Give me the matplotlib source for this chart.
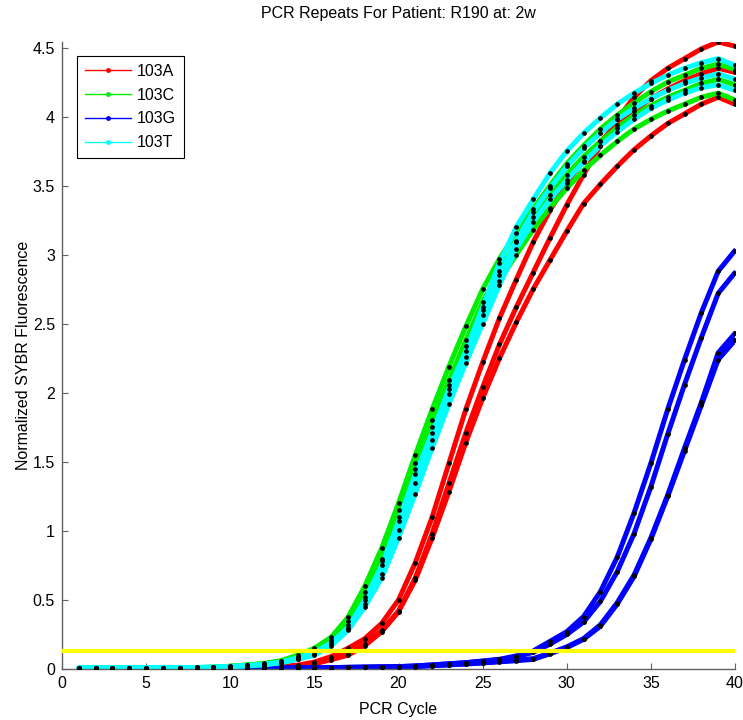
import matplotlib
matplotlib.use("Agg")
import matplotlib.pyplot as plt
from matplotlib.lines import Line2D

plt.rcParams['font.family'] = ['Liberation Sans', 'DejaVu Sans']

cycles = list(range(1, 41))

# 103A (red) replicates
a_rep1 = [0.000, 0.000, 0.000, 0.000, 0.000, 0.001, 0.002, 0.004, 0.005, 0.006,
          0.008, 0.012, 0.018, 0.028, 0.050, 0.090, 0.150, 0.220, 0.330, 0.500,
          0.770, 1.100, 1.490, 1.880, 2.220, 2.540, 2.820, 3.090, 3.320, 3.520,
          3.680, 3.820, 3.940, 4.040, 4.130, 4.200, 4.260, 4.310, 4.350, 4.320]
a_rep2 = [0.000, 0.000, 0.000, 0.000, 0.000, 0.001, 0.002, 0.003, 0.004, 0.005,
          0.007, 0.010, 0.015, 0.022, 0.040, 0.070, 0.110, 0.180, 0.280, 0.420,
          0.660, 0.980, 1.345, 1.710, 2.040, 2.350, 2.620, 2.870, 3.120, 3.360,
          3.580, 3.790, 3.980, 4.140, 4.260, 4.350, 4.420, 4.490, 4.540, 4.510]
a_rep3 = [0.000, 0.000, 0.000, 0.000, 0.000, 0.001, 0.002, 0.003, 0.004, 0.005,
          0.007, 0.010, 0.014, 0.021, 0.038, 0.068, 0.100, 0.170, 0.270, 0.415,
          0.645, 0.950, 1.285, 1.640, 1.960, 2.250, 2.510, 2.750, 2.960, 3.170,
          3.370, 3.510, 3.640, 3.760, 3.860, 3.950, 4.020, 4.090, 4.140, 4.090]

# 103C (green) replicates
c_rep1 = [0.005, 0.005, 0.005, 0.006, 0.006, 0.007, 0.008, 0.010, 0.013, 0.020,
          0.030, 0.040, 0.060, 0.100, 0.150, 0.230, 0.375, 0.600, 0.875, 1.200,
          1.550, 1.880, 2.190, 2.480, 2.750, 2.970, 3.160, 3.330, 3.500, 3.660,
          3.790, 3.910, 4.010, 4.100, 4.180, 4.250, 4.300, 4.350, 4.380, 4.340]
c_rep2 = [0.005, 0.005, 0.005, 0.006, 0.006, 0.007, 0.008, 0.010, 0.012, 0.019,
          0.028, 0.038, 0.055, 0.090, 0.140, 0.210, 0.350, 0.560, 0.800, 1.150,
          1.490, 1.800, 2.090, 2.380, 2.660, 2.880, 3.090, 3.270, 3.430, 3.580,
          3.710, 3.820, 3.920, 4.010, 4.080, 4.140, 4.190, 4.240, 4.270, 4.230]
c_rep3 = [0.005, 0.005, 0.005, 0.006, 0.006, 0.007, 0.008, 0.010, 0.012, 0.018,
          0.027, 0.036, 0.052, 0.085, 0.130, 0.200, 0.320, 0.520, 0.780, 1.100,
          1.450, 1.750, 2.060, 2.340, 2.600, 2.810, 3.000, 3.180, 3.340, 3.480,
          3.610, 3.720, 3.820, 3.910, 3.980, 4.040, 4.090, 4.140, 4.170, 4.120]

# 103G (blue) replicates
g_rep1 = [0.000, 0.000, 0.000, 0.000, 0.000, 0.000, 0.001, 0.002, 0.003, 0.004,
          0.005, 0.006, 0.007, 0.008, 0.009, 0.010, 0.012, 0.013, 0.015, 0.017,
          0.022, 0.030, 0.038, 0.046, 0.058, 0.070, 0.095, 0.130, 0.200, 0.270,
          0.380, 0.560, 0.810, 1.130, 1.490, 1.880, 2.240, 2.580, 2.880, 3.030]
g_rep2 = [0.000, 0.000, 0.000, 0.000, 0.000, 0.000, 0.001, 0.002, 0.003, 0.004,
          0.005, 0.006, 0.007, 0.008, 0.009, 0.010, 0.012, 0.013, 0.015, 0.017,
          0.022, 0.029, 0.037, 0.045, 0.056, 0.068, 0.090, 0.120, 0.180, 0.250,
          0.340, 0.490, 0.705, 0.980, 1.320, 1.700, 2.060, 2.400, 2.720, 2.870]
g_rep3 = [0.000, 0.000, 0.000, 0.000, 0.000, 0.000, 0.001, 0.002, 0.003, 0.004,
          0.005, 0.006, 0.007, 0.008, 0.009, 0.010, 0.011, 0.012, 0.013, 0.015,
          0.019, 0.025, 0.031, 0.038, 0.046, 0.055, 0.065, 0.075, 0.115, 0.160,
          0.220, 0.320, 0.480, 0.680, 0.950, 1.260, 1.600, 1.930, 2.290, 2.430]
g_rep4 = [0.000, 0.000, 0.000, 0.000, 0.000, 0.000, 0.001, 0.002, 0.003, 0.004,
          0.005, 0.006, 0.007, 0.008, 0.009, 0.010, 0.011, 0.012, 0.013, 0.014,
          0.018, 0.024, 0.030, 0.036, 0.044, 0.052, 0.060, 0.070, 0.110, 0.155,
          0.215, 0.310, 0.470, 0.670, 0.940, 1.250, 1.580, 1.910, 2.240, 2.380]

# 103T (cyan) replicates
t_rep1 = [0.008, 0.008, 0.008, 0.009, 0.009, 0.010, 0.010, 0.011, 0.013, 0.018,
          0.025, 0.034, 0.050, 0.080, 0.120, 0.190, 0.300, 0.500, 0.750, 1.070,
          1.410, 1.710, 2.030, 2.300, 2.620, 2.940, 3.200, 3.400, 3.590, 3.750,
          3.880, 3.990, 4.090, 4.170, 4.240, 4.300, 4.350, 4.390, 4.420, 4.370]
t_rep2 = [0.008, 0.008, 0.008, 0.009, 0.009, 0.010, 0.010, 0.011, 0.012, 0.017,
          0.024, 0.032, 0.047, 0.075, 0.110, 0.180, 0.290, 0.470, 0.690, 1.010,
          1.350, 1.660, 1.990, 2.260, 2.560, 2.850, 3.100, 3.310, 3.480, 3.640,
          3.770, 3.880, 3.980, 4.060, 4.130, 4.190, 4.240, 4.280, 4.310, 4.270]
t_rep3 = [0.008, 0.008, 0.008, 0.009, 0.009, 0.010, 0.010, 0.011, 0.012, 0.016,
          0.023, 0.030, 0.045, 0.070, 0.100, 0.170, 0.280, 0.450, 0.660, 0.950,
          1.270, 1.600, 1.920, 2.215, 2.500, 2.780, 3.040, 3.240, 3.400, 3.540,
          3.670, 3.790, 3.890, 3.980, 4.060, 4.120, 4.170, 4.210, 4.230, 4.190]

labels = ['103A', '103C', '103G', '103T']
colors = ['#ff0000', '#00ee00', '#0000ff', '#00ffff']
groups = [[a_rep1, a_rep2, a_rep3],
          [c_rep1, c_rep2, c_rep3],
          [g_rep1, g_rep2, g_rep3, g_rep4],
          [t_rep1, t_rep2, t_rep3]]

threshold = 0.13
x_range = [0, 40]

fig = plt.figure(figsize=(7.43, 7.2), dpi=100)
ax = fig.add_axes([62 / 743, 51 / 720, 673 / 743, 627 / 720])

for grp, col in zip(groups, colors):
    for rep in grp:
        ax.plot(cycles, rep, color=col, lw=3.6, solid_joinstyle='round',
                solid_capstyle='round', zorder=2)

for grp in groups:
    for rep in grp:
        ax.plot(cycles, rep, linestyle='none', marker='o', ms=2.4,
                color='black', zorder=3)

ax.plot(x_range, [threshold, threshold], color='#ffff00', lw=3.0, zorder=4)

ymax = max(max(r) for g in groups for r in g)
ax.set_xlim(0, 40)
ax.set_ylim(0, ymax)
ax.set_xticks(list(range(0, 41, 5)))
yt = [i * 0.5 for i in range(10)]
ax.set_yticks(yt)
ax.set_yticklabels(['%g' % v for v in yt])

for s in ['top', 'right']:
    ax.spines[s].set_visible(False)
for s in ['left', 'bottom']:
    ax.spines[s].set_color('#606060')
    ax.spines[s].set_linewidth(1.0)
ax.tick_params(direction='in', length=4.5, width=0.8, color='#606060',
               labelsize=11.5, labelcolor='black', pad=5)

ax.set_xlabel('PCR Cycle', fontsize=11.5, labelpad=8)
ax.set_ylabel('Normalized SYBR Fluorescence', fontsize=11.5, labelpad=1)
ax.set_title('PCR Repeats For Patient: R190 at: 2w', fontsize=11.5, pad=17)

handles = [Line2D([0], [0], color=c, lw=1.0, marker='o', ms=2.5,
                  markerfacecolor=c, markeredgecolor=c) for c in colors]
leg = ax.legend(handles, labels, loc='upper left',
                bbox_to_anchor=(0.022, 0.978), borderaxespad=0,
                fontsize=11.5, handlelength=2.9, handletextpad=0.35,
                labelspacing=0.55, borderpad=0.5, fancybox=False,
                framealpha=1, edgecolor='black')
leg.get_frame().set_linewidth(0.8)

fig.savefig('out.png', dpi=100)
